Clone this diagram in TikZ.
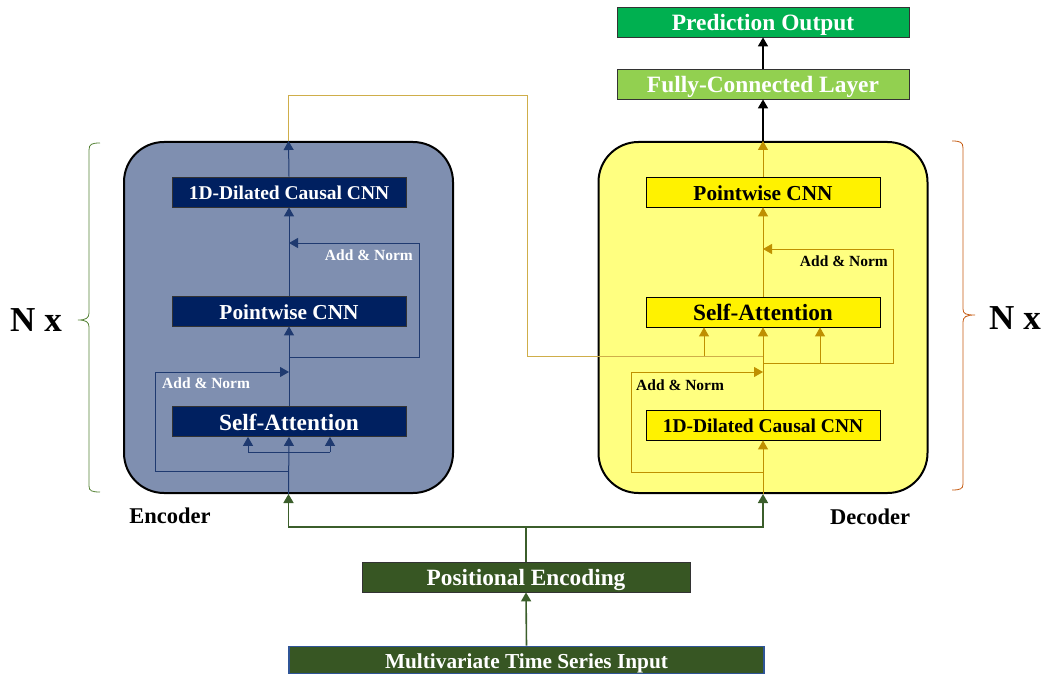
\documentclass[tikz,border=0pt]{standalone}
\usepackage{fontspec}
\setmainfont{Liberation Serif}
\usetikzlibrary{arrows.meta,calc}
\definecolor{navy}{HTML}{002060}
\definecolor{encfill}{HTML}{7F8FB0}
\definecolor{decfill}{HTML}{FFFF80}
\definecolor{encline}{HTML}{1F3A70}
\definecolor{gold}{HTML}{BF9000}
\definecolor{linkcol}{HTML}{CFAE4A}
\definecolor{pegreen}{HTML}{375623}
\definecolor{grnline}{HTML}{3B5E2B}
\definecolor{mtiblue}{HTML}{2F5597}
\definecolor{predgreen}{HTML}{00B050}
\definecolor{fcgreen}{HTML}{92D050}
\definecolor{bracegreen}{HTML}{548235}
\definecolor{bracebrown}{HTML}{C55A11}
\tikzset{
  fsz/.style={font=\bfseries\fontsize{#1}{#1}\selectfont, text height={0.76*#1pt}, text depth=0pt},
  box/.style={draw, line width=0.8pt, minimum width=234pt, minimum height=30pt, inner sep=0pt},
  encbox/.style={box, fill=navy, draw=black!80, text=white},
  decbox/.style={box, fill=yellow, draw=black},
  bigbox/.style={draw=black, line width=2pt, rounded corners=40pt, minimum width=329pt, minimum height=351pt, inner sep=0pt},
  tip/.style={-{Triangle[width=10pt,length=9pt]}},
  eline/.style={draw=encline, line width=1pt},
  dline/.style={draw=gold, line width=0.9pt},
  gline/.style={draw=grnline, line width=1.6pt},
  kline/.style={draw=black, line width=1.6pt},
  topbox/.style={draw=black!80, line width=0.8pt, minimum width=292pt, minimum height=30pt, inner sep=0pt, text=white},
  addnorm/.style={fsz=15.5, inner sep=0pt},
}
\begin{document}
\begin{tikzpicture}[x=1pt,y=-1pt]
\useasboundingbox (0,0) rectangle (1045,674);

% big boxes
\node[bigbox, fill=encfill] (enc) at (288.5,317.5) {};
\node[bigbox, fill=decfill] (dec) at (763,317.5) {};

% top boxes
\node[topbox, fill=predgreen, fsz=23.4] (pred) at (763,22) {Prediction Output};
\node[topbox, fill=fcgreen, fsz=23.4] (fc) at (763,84) {Fully-Connected Layer};

% bottom boxes
\node[draw=black!80, line width=0.8pt, fill=pegreen, text=white, minimum width=328pt, minimum height=30pt, inner sep=0pt, fsz=23.3] (pe) at (526,577) {Positional Encoding};
\node[draw=mtiblue, line width=1.6pt, fill=pegreen, text=white, minimum width=475pt, minimum height=27pt, inner sep=0pt, fsz=21.3] (mti) at (526.5,660) {Multivariate Time Series Input};

% encoder inner boxes
\node[encbox, fsz=19.5] (e1d) at (289,192) {1D-Dilated Causal CNN};
\node[encbox, fsz=21.3] (epw) at (289,311) {Pointwise CNN};
\node[encbox, fsz=23.3] (esa) at (289,421.5) {Self-Attention};

% decoder inner boxes
\node[decbox, fsz=21.3] (dpw) at (763,192) {Pointwise CNN};
\node[decbox, fsz=23.3] (dsa) at (763,312) {Self-Attention};
\node[decbox, fsz=19.5] (d1d) at (763,425) {1D-Dilated Causal CNN};

% coordinates
\coordinate (eBrL) at (248,452);
\coordinate (eBrR) at (330,452);
\coordinate (eR1s) at (289,471);
\coordinate (eR1e) at (289,372);
\coordinate (eR2s) at (289,357);
\coordinate (eR2e) at (289,243);
\coordinate (dJ) at (763,356);
\coordinate (dBrL) at (704,356);
\coordinate (dR2s) at (763,363);
\coordinate (dBrR) at (820,363);
\coordinate (dR2e) at (763,249);
\coordinate (dR1s) at (763,472);
\coordinate (dR1e) at (763,372);
\coordinate (peTop) at (526,527);

% encoder connectors
\draw[eline, tip] (enc.south) -- (esa.south);
\draw[eline] (eBrL) -- (eBrR);
\draw[eline, tip] (eBrL) -- (eBrL |- esa.south);
\draw[eline, tip] (eBrR) -- (eBrR |- esa.south);
\draw[eline, tip] (eR1s) -- ++(-134,0) |- (eR1e);
\draw[eline, tip] (esa.north) -- (epw.south);
\draw[eline, tip] (eR2s) -- ++(130,0) |- (eR2e);
\draw[eline, tip] (epw.north) -- (e1d.south);
\draw[eline, tip] (e1d.north) -- (enc.north);
\node[addnorm, text=white, anchor=west] (eAN1) at (162,383) {Add \& Norm};
\node[addnorm, text=white, anchor=east] (eAN2) at (413,255) {Add \& Norm};

% link encoder -> decoder
\draw[draw=linkcol, line width=0.9pt] (enc.north) -- ++(0,-46) -| (527,356) -- (dJ);

% decoder connectors
\draw[dline, tip] (dec.south) -- (d1d.south);
\draw[dline, tip] (dR1s) -- ++(-132,0) |- (dR1e);
\draw[dline, tip] (d1d.north) -- (dsa.south);
\draw[dline, tip] (dBrL) -- (dBrL |- dsa.south);
\draw[dline] (dR2s) -- (dBrR);
\draw[dline, tip] (dBrR) -- (dBrR |- dsa.south);
\draw[dline, tip] (dR2s) -- ++(130,0) |- (dR2e);
\draw[dline, tip] (dsa.north) -- (dpw.south);
\draw[dline, tip] (dpw.north) -- (dec.north);
\node[addnorm, text=black, anchor=west] (dAN1) at (636,385) {Add \& Norm};
\node[addnorm, text=black, anchor=east] (dAN2) at (888,261) {Add \& Norm};

% output connectors
\draw[kline, tip] (dec.north) -- (fc.south);
\draw[kline, tip] (fc.north) -- (pred.south);

% input connectors
\draw[gline, tip] (mti.north) -- (pe.south);
\draw[gline] (pe.north) -- (peTop);
\draw[gline, tip] (peTop) -| (enc.south);
\draw[gline, tip] (peTop) -| (dec.south);

% labels
\node[fsz=22.5, inner sep=0pt, anchor=base] (encl) at (170,523) {Encoder};
\node[fsz=22.5, inner sep=0pt, anchor=base] (decl) at (870,524) {Decoder};

% braces
\draw[draw=bracegreen, line width=0.8pt] (100,143) .. controls (92,143) and (89,144) .. (89,150) -- (89,313) .. controls (89,318) and (86,320) .. (78,320) .. controls (86,320) and (89,322) .. (89,327) -- (89,486) .. controls (89,491) and (92,492) .. (100,492);
\draw[draw=bracebrown, line width=0.8pt] (952,141) .. controls (960,141) and (963,142) .. (963,148) -- (963,309) .. controls (963,314) and (966,315) .. (975,315) .. controls (966,315) and (963,317) .. (963,322) -- (963,484) .. controls (963,489) and (960,490) .. (952,490);
\node[fsz=35] (nxl) at (36,318) {N x};
\node[fsz=35] (nxr) at (1015,316) {N x};
\end{tikzpicture}
\end{document}
